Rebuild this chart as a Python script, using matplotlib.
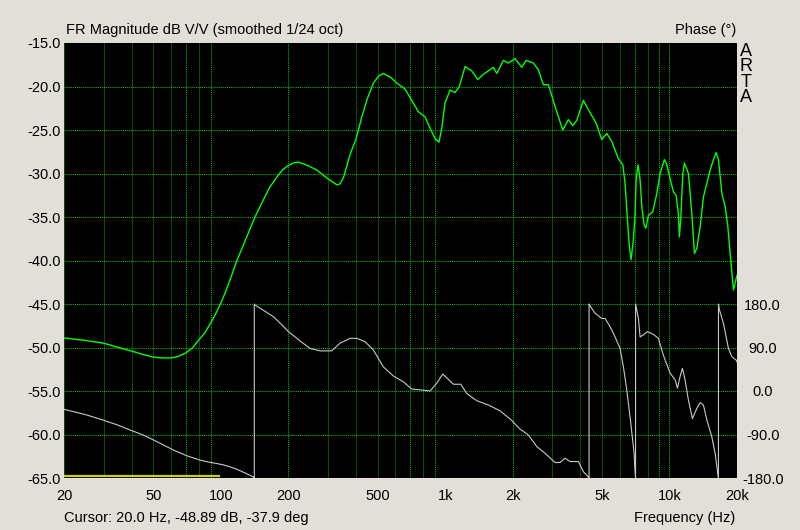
import matplotlib
matplotlib.use("Agg")
import matplotlib.pyplot as plt

plt.rcParams['font.family'] = ['Liberation Sans', 'DejaVu Sans']

# magnitude response (dB V/V, smoothed 1/24 oct)
mag_hz = [20, 25, 30, 35, 40, 45, 50, 55, 60, 65, 70, 75, 80, 85, 90, 95, 100, 105, 110,
          118, 130, 142, 155, 165, 178, 188, 197, 210, 222, 240, 268, 300,
          329, 340, 352, 377, 401, 425, 450, 479, 505, 530, 568, 609, 663, 710, 760, 814,
          857, 902, 939, 966, 999, 1052, 1107, 1157, 1227, 1314, 1398, 1480, 1641, 1699,
          1818, 1914, 2050, 2196, 2295, 2474, 2604, 2742, 2886, 3090, 3344, 3543, 3706,
          3862, 4133, 4427, 4708, 4991, 5255, 5531, 5919, 6193, 6340, 6493, 6627, 6745,
          6905, 7027, 7100, 7247, 7398, 7528, 7707, 7843, 8055, 8427, 8780, 9085, 9494,
          9731, 10066, 10412, 10706, 10960, 11074, 11237, 11470, 11660, 12148, 12580,
          12920, 13243, 13699, 14171, 15184, 15707, 16147, 16534, 17120, 17708, 18207,
          18644, 18970, 19285, 20000]
mag_db = [-48.9, -49.2, -49.5, -50.0, -50.4, -50.8, -51.1, -51.2, -51.2, -51.0, -50.6,
          -50.0, -49.1, -48.3, -47.2, -46.1, -44.9, -43.6, -42.2, -40.0, -37.4, -35.0,
          -33.0, -31.6, -30.4, -29.6, -29.2, -28.8, -28.7, -29.0, -29.6, -30.6,
          -31.3, -31.2, -30.5, -27.8, -26.0, -23.5, -21.4, -19.6, -18.8, -18.5, -18.9,
          -19.6, -20.3, -21.6, -22.9, -23.5, -24.8, -26.0, -26.4, -24.8, -21.9, -20.4,
          -20.7, -20.0, -17.7, -18.2, -19.2, -18.6, -17.8, -18.5, -17.0, -17.3, -16.8,
          -17.8, -17.0, -17.3, -18.1, -19.8, -19.8, -22.3, -25.0, -23.8, -24.5, -23.9,
          -21.6, -23.0, -24.2, -26.1, -25.4, -26.3, -28.3, -29.0, -31.1, -35.3, -38.4,
          -39.9, -37.6, -34.6, -30.7, -29.0, -30.7, -33.8, -35.9, -36.3, -34.8, -34.4,
          -32.3, -30.0, -28.4, -29.0, -30.6, -32.1, -32.5, -34.6, -37.3, -35.0, -30.0,
          -28.8, -30.0, -34.6, -39.2, -38.6, -36.1, -32.7, -29.6, -28.4, -27.6, -28.4,
          -32.3, -33.8, -36.1, -39.2, -41.3, -43.4, -41.7]

# phase (deg), wrapped at +/-180
ph_hz = [20, 25, 29.8, 34.5, 39.4, 45.1, 53.6, 61.4, 70.5, 80.8, 88, 95.9, 103, 110, 118,
         126, 133, 139.8, 141, 141, 142, 156, 171.5, 185, 200, 225, 250, 277, 312, 340,
         377, 403.6, 439.6, 478.6, 530.4, 587.8, 651.3, 710, 786.6, 856.6, 917, 976, 1034,
         1088, 1174, 1249, 1383, 1559, 1757, 1982, 2158, 2350, 2562, 2790, 3090, 3253,
         3424, 3605, 3927, 4133, 4350, 4381, 4381, 4396, 4660, 4991, 5165, 5435, 5722,
         6023, 6232, 6453, 6724, 6957, 7027, 7060, 7060, 7193, 7271, 7398, 7651, 7969,
         8480, 8926, 9394, 10066, 10597, 10850, 11153, 11421, 11740, 12148, 12656, 13243,
         13699, 14171, 14679, 15448, 15980, 16430, 16534, 16534, 16700, 17400, 18320,
         18970, 19820, 20000]
ph_deg = [-37.9, -49, -60, -70, -80.7, -91, -108, -122, -134, -143, -147, -150, -153,
          -157, -162, -168, -173, -178, -180, 180, 178, 166, 154, 139, 123, 104, 88, 83,
          83, 99, 109, 109, 102, 85, 50, 31, 19, 4, 2, 0, 16, 35, 24, 14, 14, -5, -20,
          -29, -41, -61, -79, -91, -115, -129, -148, -148, -139, -146, -146, -167, -178,
          -180, 180, 178, 161, 150, 150, 133, 112, 88, 50, 2, -67, -129, -169, -180, 180,
          161, 150, 112, 116, 123, 117, 109, 74, 37, 23, 6, 30, 47, 23, -19, -57, -36,
          -24, -29, -60, -95, -129, -172, -180, 180, 168, 140, 88, 71, 64, 60]

# frequency range marker (yellow bar at the bottom)
range_hz = [20, 98]
range_db = [-64.8, -64.8]

x_ticks = [20, 50, 100, 200, 500, 1000, 2000, 5000, 10000, 20000]
x_labels = ['20', '50', '100', '200', '500', '1k', '2k', '5k', '10k', '20k']
db_ticks = [-15, -20, -25, -30, -35, -40, -45, -50, -55, -60, -65]
ph_ticks = [-180, -90, 0, 90, 180]

bright_v = [70, 90, 100, 200, 700, 900, 1000, 2000, 7000, 9000, 10000]
all_v = [m * d for d in (10, 100, 1000) for m in range(2, 10)] + [10000, 20000]

fig = plt.figure(figsize=(8, 5.3), dpi=100)
fig.patch.set_facecolor('#e2dfd8')
ax = fig.add_axes([64 / 800, 52 / 530, 673 / 800, 435 / 530])
ax.set_facecolor('black')
ax.set_xscale('log')
ax.set_xlim(20, 20000)
ax.set_ylim(-65, -15)

for f in all_v:
    if f in bright_v:
        ax.axvline(f, color='#00c000', lw=0.75, ls=(0, (1, 1)), zorder=1)
    elif f != 20000:
        ax.axvline(f, color='#0b4a0b', lw=0.75, zorder=1)
for d in db_ticks[1:-1]:
    ax.axhline(d, color='#00c000', lw=0.75, ls=(0, (1, 1)), zorder=1)

ax.plot(mag_hz, mag_db, color='#00ff00', lw=1.0, zorder=4)
ax.plot(range_hz, range_db, color='#d0d000', lw=1.6, zorder=3)

ax2 = ax.twinx()
ax2.set_ylim(-180, 720)
ax2.plot(ph_hz, ph_deg, color='#c8c8c8', lw=0.8, zorder=3)

ax.set_xticks(x_ticks)
ax.set_xticklabels(x_labels)
ax.xaxis.set_minor_locator(matplotlib.ticker.NullLocator())
ax.set_yticks(db_ticks)
ax.set_yticklabels(['%.1f' % v for v in db_ticks])
ax.tick_params(axis='x', length=0, pad=8, labelsize=10.5)
ax.tick_params(axis='y', length=0, pad=2.5, labelsize=10.5)

ax2.set_yticks(ph_ticks)
ax2.set_yticklabels(['%.1f' % v for v in ph_ticks])
ax2.tick_params(axis='y', length=0, pad=18.5, labelsize=10.5)
for lab in ax2.get_yticklabels():
    lab.set_horizontalalignment('center')

for a in (ax, ax2):
    for s in a.spines.values():
        s.set_visible(False)

fig.text(66 / 800, 1 - 30 / 530, 'FR Magnitude dB V/V (smoothed 1/24 oct)',
         fontsize=10.5, va='center', ha='left')
fig.text(736 / 800, 1 - 30 / 530, 'Phase (°)', fontsize=10.5, va='center', ha='right')
for i, ch in enumerate('ARTA'):
    fig.text(746 / 800, 1 - (51 + 15.6 * i) / 530, ch, fontsize=13,
             va='center', ha='center')
fig.text(64 / 800, 1 - 518 / 530, 'Cursor: 20.0 Hz, -48.89 dB, -37.9 deg',
         fontsize=10.5, va='center', ha='left')
fig.text(735 / 800, 1 - 518 / 530, 'Frequency (Hz)', fontsize=10.5,
         va='center', ha='right')

fig.savefig('out.png', dpi=100, facecolor=fig.get_facecolor())
